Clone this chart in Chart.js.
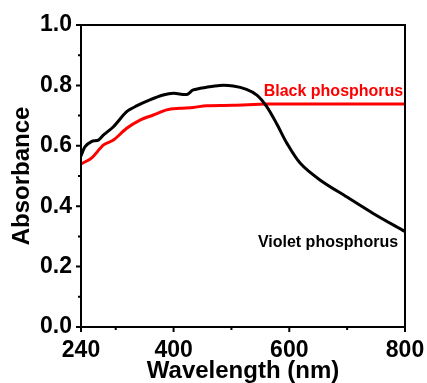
<!DOCTYPE html>
<html>
<head>
<meta charset="utf-8">
<script src="https://cdn.jsdelivr.net/npm/chart.js@4/dist/chart.umd.min.js"></script>
<style>
html, body { margin: 0; padding: 0; background: #fff; }
</style>
</head>
<body>
<canvas id="line-chart" width="427" height="383"></canvas>
<script>
// violet phosphorus absorbance
var violetX = [240, 247, 258, 270, 279, 296, 319, 336, 359, 382, 400, 423, 434, 457, 480, 503, 526, 544, 561, 578, 596, 619, 653, 699, 745, 800];
var violetY = [0.566, 0.597, 0.614, 0.619, 0.636, 0.663, 0.713, 0.732, 0.752, 0.768, 0.774, 0.770, 0.785, 0.794, 0.800, 0.798, 0.787, 0.768, 0.730, 0.674, 0.608, 0.542, 0.487, 0.431, 0.376, 0.316];

// black phosphorus absorbance
var blackX = [240, 258, 279, 296, 319, 342, 365, 388, 411, 434, 457, 503, 561, 650, 800];
var blackY = [0.540, 0.559, 0.603, 0.619, 0.658, 0.685, 0.702, 0.719, 0.724, 0.727, 0.733, 0.734, 0.738, 0.738, 0.738];

var xTicks = [240, 400, 600, 800];
var xMinor = [300, 500, 700];
var yMinor = [0.1, 0.3, 0.5, 0.7, 0.9];

function pairs(xs, ys) {
  return xs.map(function (x, i) { return { x: x, y: ys[i] }; });
}

var boldFont = 'Arial, "Liberation Sans", sans-serif';

// frame, outward tick marks and curve labels
var frame = {
  id: 'frame',
  afterDraw: function (chart) {
    var ctx = chart.ctx, a = chart.chartArea;
    var xs = chart.scales.x, ys = chart.scales.y;
    ctx.save();
    ctx.strokeStyle = '#000';
    ctx.lineWidth = 2;
    ctx.strokeRect(a.left, a.top, a.right - a.left, a.bottom - a.top);
    ctx.beginPath();
    xTicks.forEach(function (v) {
      var px = xs.getPixelForValue(v);
      ctx.moveTo(px, a.bottom); ctx.lineTo(px, a.bottom + 5);
    });
    xMinor.forEach(function (v) {
      var px = xs.getPixelForValue(v);
      ctx.moveTo(px, a.bottom); ctx.lineTo(px, a.bottom + 3);
    });
    ys.ticks.forEach(function (t) {
      var py = ys.getPixelForValue(t.value);
      ctx.moveTo(a.left, py); ctx.lineTo(a.left - 5, py);
    });
    yMinor.forEach(function (v) {
      var py = ys.getPixelForValue(v);
      ctx.moveTo(a.left, py); ctx.lineTo(a.left - 3, py);
    });
    ctx.stroke();

    ctx.font = 'bold 16px ' + boldFont;
    ctx.textAlign = 'right';
    ctx.textBaseline = 'middle';
    ctx.fillStyle = '#ff0000';
    ctx.fillText('Black phosphorus', xs.getPixelForValue(797), ys.getPixelForValue(0.78));
    ctx.fillStyle = '#000';
    ctx.fillText('Violet phosphorus', xs.getPixelForValue(788), ys.getPixelForValue(0.28));
    ctx.restore();
  }
};

new Chart(document.getElementById('line-chart'), {
  type: 'line',
  data: {
    datasets: [{
        label: 'Violet phosphorus',
        data: pairs(violetX, violetY),
        borderColor: '#000000',
        borderWidth: 3,
        pointRadius: 0,
        tension: 0.3,
        fill: false
      }, {
        label: 'Black phosphorus',
        data: pairs(blackX, blackY),
        borderColor: '#ff0000',
        borderWidth: 3,
        pointRadius: 0,
        tension: 0.3,
        fill: false
      }
    ]
  },
  options: {
    responsive: false,
    animation: false,
    layout: { padding: { left: 0, right: 22, top: 25, bottom: 0 } },
    plugins: {
      legend: { display: false },
      tooltip: { enabled: false }
    },
    scales: {
      x: {
        type: 'linear',
        min: 240,
        max: 800,
        afterBuildTicks: function (scale) {
          scale.ticks = xTicks.map(function (v) { return { value: v }; });
        },
        afterFit: function (scale) {
          scale.height = 56;
          scale.paddingLeft = 0;
          scale.paddingRight = 0;
        },
        grid: { display: false, drawTicks: false },
        border: { display: false },
        ticks: {
          color: '#000',
          padding: 10,
          maxRotation: 0,
          font: { family: boldFont, size: 23, weight: 'bold' }
        },
        title: {
          display: true,
          text: 'Wavelength (nm)',
          color: '#000',
          padding: { top: 0, bottom: 0 },
          font: { family: boldFont, size: 24, weight: 'bold', lineHeight: 1 }
        }
      },
      y: {
        min: 0,
        max: 1,
        afterFit: function (scale) {
          scale.width = 81;
          scale.paddingTop = 0;
          scale.paddingBottom = 0;
        },
        grid: { display: false, drawTicks: false },
        border: { display: false },
        ticks: {
          stepSize: 0.2,
          color: '#000',
          padding: 9,
          font: { family: boldFont, size: 23, weight: 'bold' },
          callback: function (v) { return v.toFixed(1); }
        },
        title: {
          display: true,
          text: 'Absorbance',
          color: '#000',
          padding: { top: 10, bottom: 0 },
          font: { family: boldFont, size: 24, weight: 'bold', lineHeight: 1 }
        }
      }
    }
  },
  plugins: [frame]
});
</script>
</body>
</html>
